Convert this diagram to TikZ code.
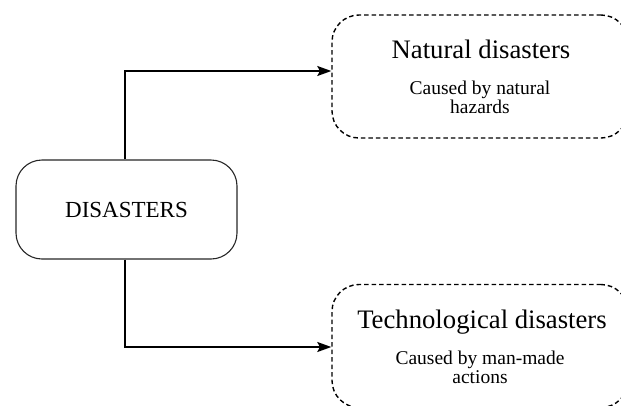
\documentclass[tikz,border=0pt]{standalone}
\usepackage{fontspec}
\setmainfont{Liberation Serif}
\usetikzlibrary{arrows.meta}

\tikzset{
  rootbox/.style={draw=black!85, line width=1.1pt, rounded corners=26pt,
    minimum width=221pt, minimum height=99pt, inner sep=0pt,
    font=\fontsize{23}{26}\selectfont},
  groupbox/.style={draw=black, line width=1.4pt, dash pattern=on 4.5pt off 3pt,
    rounded corners=27pt, minimum width=296pt, minimum height=123pt, inner sep=0pt},
  titletext/.style={font=\fontsize{26.7}{30}\selectfont, inner sep=0pt, anchor=base},
  subtext/.style={font=\fontsize{19.5}{19.5}\selectfont, align=center, inner sep=0pt},
  link/.style={draw=black, line width=1.4pt,
    -{Stealth[length=14pt, width=10pt, inset=2.5pt]}},
}

\begin{document}
\begin{tikzpicture}[x=1pt, y=-1pt]
  \useasboundingbox (0,0) rectangle (621,405);
  \clip (0,0) rectangle (621,405);

  % root node
  \node[rootbox] (dis) at (126.5,209.5) {DISASTERS};

  % the two categories
  \node[groupbox] (nat) at (480,76.5) {};
  \node[titletext] (natT) at (481,58) {Natural disasters};
  \node[subtext] (natS) at (480,97.5) {Caused by natural\\hazards};

  \node[groupbox] (tech) at (480,346) {};
  \node[titletext] (techT) at (482,328) {Technological disasters};
  \node[subtext] (techS) at (480,367.5) {Caused by man-made\\actions};

  % entry points of the connectors
  \coordinate (natIn) at (nat.west |- 0,71);
  \coordinate (techIn) at (tech.west |- 0,347);

  \draw[link] (dis.north -| 125,0) |- (natIn);
  \draw[link] (dis.south -| 125,0) |- (techIn);
\end{tikzpicture}
\end{document}
